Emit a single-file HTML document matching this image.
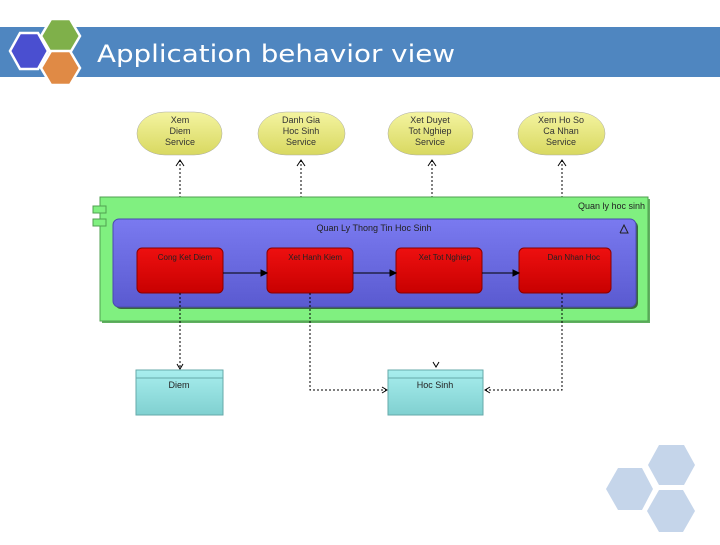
<!DOCTYPE html>
<html><head><style>
body{margin:0;width:720px;height:540px;background:#fff;overflow:hidden;font-family:"Liberation Sans",sans-serif}
</style></head><body>
<svg width="720" height="540" xmlns="http://www.w3.org/2000/svg" font-family="Liberation Sans, sans-serif">
<defs>
<linearGradient id="y" x1="0" y1="0" x2="0" y2="1"><stop offset="0" stop-color="#f4f4a0"/><stop offset="1" stop-color="#d8d860"/></linearGradient>
<linearGradient id="r" x1="0" y1="0" x2="0" y2="1"><stop offset="0" stop-color="#ee1010"/><stop offset="1" stop-color="#c80000"/></linearGradient>
<linearGradient id="b" x1="0" y1="0" x2="0" y2="1"><stop offset="0" stop-color="#7a7af0"/><stop offset="1" stop-color="#5a5ad0"/></linearGradient>
<linearGradient id="c" x1="0" y1="0" x2="0" y2="1"><stop offset="0" stop-color="#a8eeee"/><stop offset="1" stop-color="#80d0d0"/></linearGradient>
</defs>
<rect x="0" y="27" width="720" height="50" fill="#4f86c0"/>
<polygon points="10,51 20,33 38,33 48,51 38,69 20,69" fill="#4a4fd0" stroke="#fff" stroke-width="2.5"/>
<polygon points="41,36 51,19 70,19 80,36 70,53 51,53" fill="#7fb04a" stroke="#fff" stroke-width="2.5"/>
<polygon points="41,68 51,51 70,51 80,68 70,85 51,85" fill="#e08a45" stroke="#fff" stroke-width="2.5"/>
<text x="97" y="62" font-size="24" fill="#fff" font-family="DejaVu Sans, sans-serif" textLength="358" lengthAdjust="spacingAndGlyphs">Application behavior view</text>
<g fill="#c5d5ea">
<polygon points="648,465 659,445 684,445 695,465 684,485 659,485"/>
<polygon points="606,489 618,468 642,468 653,489 642,510 618,510"/>
<polygon points="647,511 659,490 683,490 695,511 683,532 659,532"/>
</g>
<g stroke="#aaa" stroke-width="0.5">
<rect x="137" y="112" width="85" height="43" rx="28" ry="21" fill="url(#y)"/>
<rect x="258" y="112" width="87" height="43" rx="28" ry="21" fill="url(#y)"/>
<rect x="388" y="112" width="85" height="43" rx="28" ry="21" fill="url(#y)"/>
<rect x="518" y="112" width="87" height="43" rx="28" ry="21" fill="url(#y)"/>
</g>
<g font-size="9" fill="#333" text-anchor="middle">
<text x="180" y="123">Xem</text><text x="180" y="134">Diem</text><text x="180" y="145">Service</text>
<text x="301" y="123">Danh Gia</text><text x="301" y="134">Hoc Sinh</text><text x="301" y="145">Service</text>
<text x="430" y="123">Xet Duyet</text><text x="430" y="134">Tot Nghiep</text><text x="430" y="145">Service</text>
<text x="561" y="123">Xem Ho So</text><text x="561" y="134">Ca Nhan</text><text x="561" y="145">Service</text>
</g>
<g stroke="#000" stroke-width="1" stroke-dasharray="2,2" fill="none">
<line x1="180" y1="160" x2="180" y2="197"/><line x1="301" y1="160" x2="301" y2="197"/>
<line x1="432" y1="160" x2="432" y2="197"/><line x1="562" y1="160" x2="562" y2="197"/>
</g>
<g stroke="#000" stroke-width="1" fill="none">
<polyline points="176,166 180,160 184,166"/><polyline points="297,166 301,160 305,166"/>
<polyline points="428,166 432,160 436,166"/><polyline points="558,166 562,160 566,166"/>
</g>
<rect x="102" y="199" width="548" height="124" fill="#60b060"/>
<rect x="100" y="197" width="548" height="124" fill="#80f080" stroke="#50a050"/>
<rect x="93" y="206" width="13" height="7" fill="#80f080" stroke="#50a050"/>
<rect x="93" y="219" width="13" height="7" fill="#80f080" stroke="#50a050"/>
<text x="645" y="209" font-size="9" fill="#222" text-anchor="end">Quan ly hoc sinh</text>
<rect x="115" y="221" width="523" height="88" rx="6" fill="#3a6a3a"/>
<rect x="113" y="219" width="523" height="88" rx="6" fill="url(#b)" stroke="#4a4ab0"/>
<text x="374" y="231" font-size="9" fill="#222" text-anchor="middle">Quan Ly Thong Tin Hoc Sinh</text>
<polyline points="620,233 624,225 628,233 620,233" fill="none" stroke="#222"/>
<g stroke="#800" stroke-width="1">
<rect x="137" y="248" width="86" height="45" rx="5" fill="url(#r)"/>
<rect x="267" y="248" width="86" height="45" rx="5" fill="url(#r)"/>
<rect x="396" y="248" width="86" height="45" rx="5" fill="url(#r)"/>
<rect x="519" y="248" width="92" height="45" rx="5" fill="url(#r)"/>
</g>
<g font-size="8" fill="#222" text-anchor="end">
<text x="212" y="260">Cong Ket Diem</text><text x="342" y="260">Xet Hanh Kiem</text>
<text x="471" y="260">Xet Tot Nghiep</text><text x="600" y="260">Dan Nhan Hoc</text>
</g>
<g stroke="#000" fill="#000">
<line x1="223" y1="273" x2="263" y2="273"/><polygon points="267,273 261,270 261,276"/>
<line x1="353" y1="273" x2="392" y2="273"/><polygon points="396,273 390,270 390,276"/>
<line x1="482" y1="273" x2="515" y2="273"/><polygon points="519,273 513,270 513,276"/>
</g>
<g stroke="#000" stroke-dasharray="2,2" fill="none">
<line x1="180" y1="293" x2="180" y2="369"/>
<polyline points="310,293 310,390 386,390"/>
<polyline points="562,293 562,390 485,390"/>
</g>
<g stroke="#000" fill="none">
<polyline points="177,364 180,369 183,364"/>
<polyline points="382,387 387,390 382,393"/>
<polyline points="490,387 485,390 490,393"/>
<polyline points="433,362 436,367 439,362"/>
</g>
<g stroke="#6aa" stroke-width="1">
<rect x="136" y="370" width="87" height="45" fill="url(#c)"/>
<rect x="388" y="370" width="95" height="45" fill="url(#c)"/>
<line x1="136" y1="378" x2="223" y2="378"/><line x1="388" y1="378" x2="483" y2="378"/>
</g>
<text x="179" y="388" font-size="9" fill="#222" text-anchor="middle">Diem</text>
<text x="435" y="388" font-size="9" fill="#222" text-anchor="middle">Hoc Sinh</text>
</svg>
</body></html>
